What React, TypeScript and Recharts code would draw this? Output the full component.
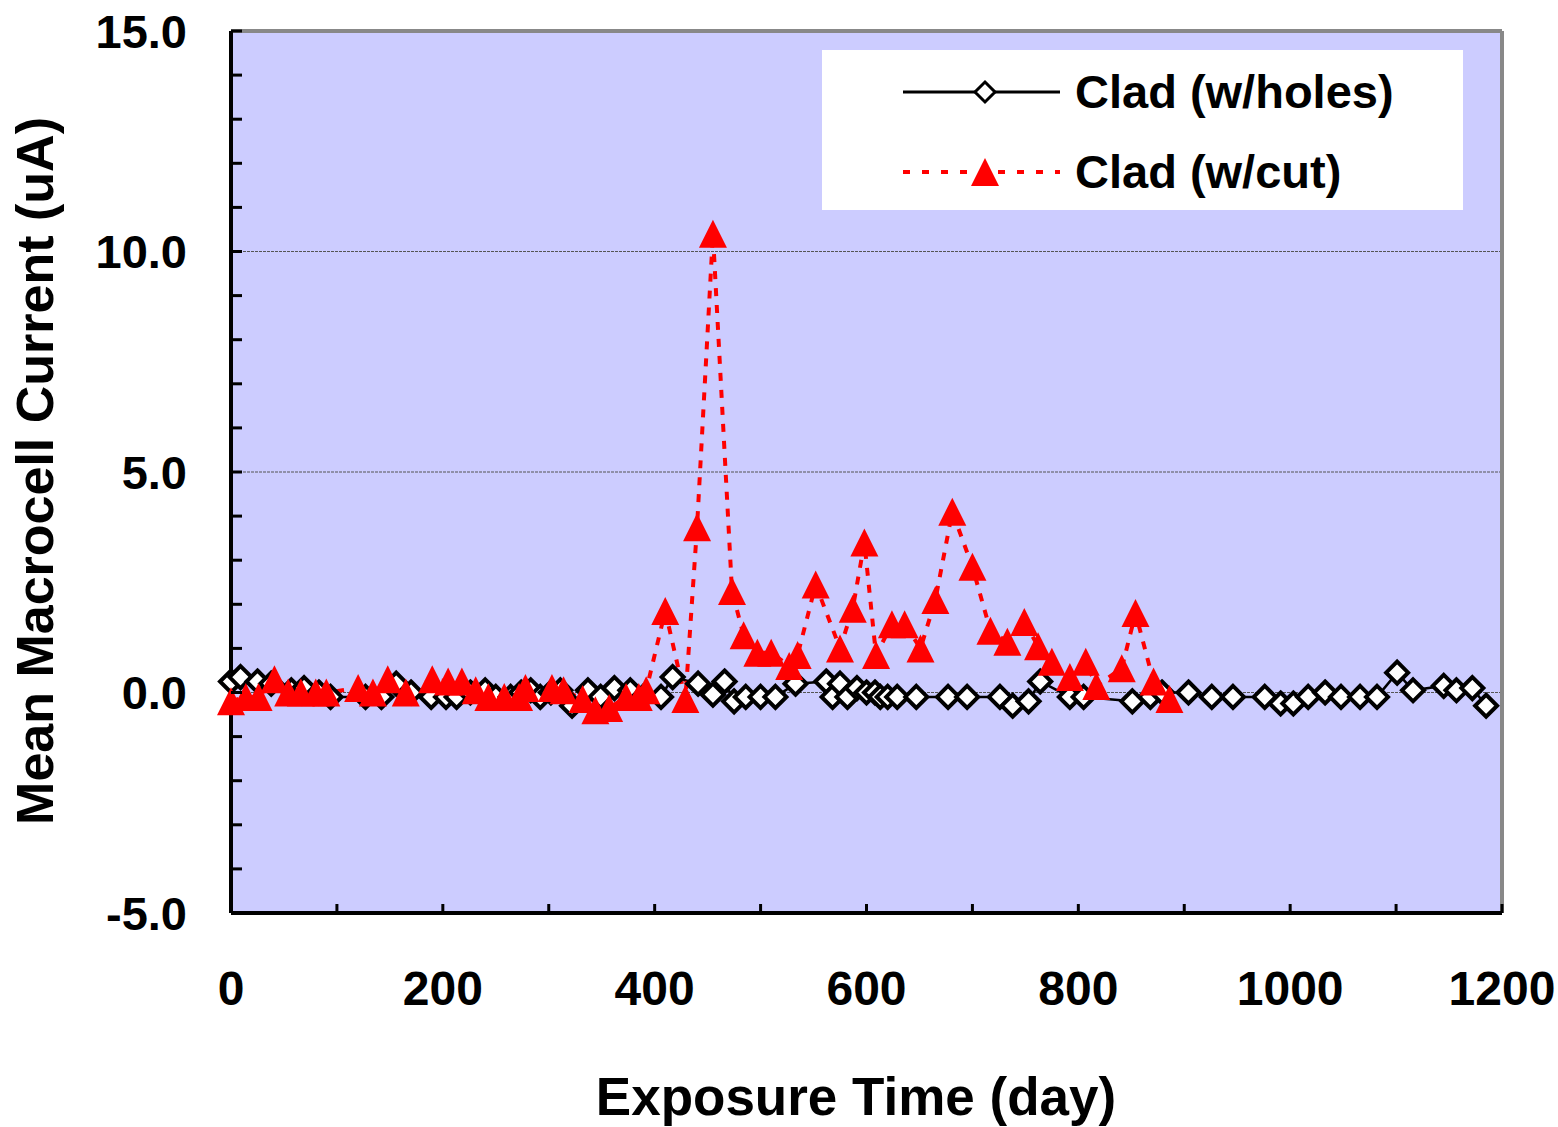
import React from 'react';
import { LineChart, Line, XAxis, YAxis, ReferenceLine, ReferenceArea } from 'recharts';

// Clad (w/holes) readings
const holesDays = [
  0, 9, 25, 38, 57, 69, 83, 94, 127, 142, 156, 170, 189, 203, 213, 226, 240, 250, 264, 274,
  283, 292, 302, 311, 322, 337, 349, 362, 377, 389, 406, 417, 441, 455, 466, 475, 486, 500,
  514, 533, 562, 568, 575, 582, 591, 600, 608, 613, 620, 629, 647, 677, 695, 726, 738, 753,
  764, 792, 805, 851, 868, 879, 904, 926, 946, 976, 991, 1003, 1017, 1033, 1048, 1066, 1082,
  1101, 1116, 1145, 1157, 1172, 1185,
];
const holesCurrent = [
  0.25, 0.35, 0.25, 0.2, 0.05, 0.1, 0.0, -0.1, -0.1, -0.1, 0.2, 0.0, -0.1, -0.1, -0.1, 0.0, 0.05, -0.1, -0.1, 0.0,
  0.05, -0.1, 0.0, 0.05, -0.3, 0.05, -0.1, 0.1, 0.05, -0.1, -0.1, 0.35, 0.2, -0.05, 0.25, -0.2, -0.1, -0.1,
  -0.1, 0.2, 0.25, -0.1, 0.2, -0.1, 0.1, 0.0, 0.0, -0.1, -0.1, -0.1, -0.1, -0.1, -0.1, -0.1, -0.3, -0.2,
  0.25, -0.1, -0.1, -0.2, -0.1, 0.0, 0.0, -0.1, -0.1, -0.1, -0.25, -0.25, -0.1, 0.0, -0.1, -0.1, -0.1,
  0.45, 0.05, 0.15, 0.05, 0.1, -0.3,
];

// Clad (w/cut) readings
const cutDays = [
  0, 14, 26, 41, 54, 66, 80, 90, 120, 134, 148, 165, 190, 205, 218, 231, 243, 258, 272, 278,
  303, 314, 332, 344, 357, 373, 385, 392, 410, 429, 440, 455, 473, 484, 497, 510, 527, 535,
  552, 575, 587, 598, 609, 624, 636, 651, 665, 681, 700, 717, 733, 749, 762, 775, 792, 807,
  817, 841, 854, 871, 886,
];
const cutCurrent = [
  -0.2, -0.1, -0.1, 0.3, 0.0, 0.0, 0.0, 0.0, 0.1, 0.0, 0.3, 0.0, 0.3, 0.25, 0.25, 0.05, -0.1, -0.1, -0.1, 0.1,
  0.1, 0.05, -0.15, -0.4, -0.35, -0.1, -0.1, 0.05, 1.85, -0.15, 3.75, 10.4, 2.3, 1.3, 0.9, 0.9, 0.6, 0.85,
  2.45, 1.0, 1.9, 3.4, 0.85, 1.55, 1.55, 1.0, 2.1, 4.1, 2.85, 1.4, 1.15, 1.6, 1.05, 0.7, 0.35, 0.7,
  0.15, 0.55, 1.8, 0.25, -0.15,
];

const xTicks = [0, 100, 200, 300, 400, 500, 600, 700, 800, 900, 1000, 1100, 1200];
const yTicks = [-5, -4, -3, -2, -1, 0, 1, 2, 3, 4, 5, 6, 7, 8, 9, 10, 11, 12, 13, 14, 15];
const gridValues = [0, 5, 10];

const holesData = holesDays.map((day, i) => ({ day, current: holesCurrent[i] }));
const cutData = cutDays.map((day, i) => ({ day, current: cutCurrent[i] }));

const FONT = '"Liberation Sans", Arial, sans-serif';
const PLOT_LEFT = 231;
const PLOT_BOTTOM = 913;

const diamondPath = (cx: number, cy: number, r: number) =>
  `M${cx},${cy - r} L${cx + r},${cy} L${cx},${cy + r} L${cx - r},${cy} Z`;

const trianglePath = (cx: number, cy: number) =>
  `M${cx},${cy - 14} L${cx + 14},${cy + 14} L${cx - 14},${cy + 14} Z`;

const DiamondDot = (props: any) => {
  const { cx, cy, index } = props;
  if (cx == null || cy == null) return <g key={`d-${index}`} />;
  return (
    <path key={`d-${index}`} d={diamondPath(cx, cy, 11)} fill="#fff" stroke="#000" strokeWidth={4} strokeLinejoin="miter" />
  );
};

const TriangleDot = (props: any) => {
  const { cx, cy, index } = props;
  if (cx == null || cy == null) return <g key={`t-${index}`} />;
  return <path key={`t-${index}`} d={trianglePath(cx, cy)} fill="#ff0000" stroke="none" />;
};

const YTick = (props: any) => {
  const { y, payload } = props;
  const v = payload.value as number;
  return (
    <g>
      <line x1={PLOT_LEFT} x2={PLOT_LEFT + 11} y1={y} y2={y} stroke="#000" strokeWidth={3} />
      {v % 5 === 0 && (
        <text x={187} y={y} dy="0.36em" textAnchor="end" fontSize={47} fontWeight="bold" fontFamily={FONT} fill="#000">
          {v.toFixed(1)}
        </text>
      )}
    </g>
  );
};

const XTick = (props: any) => {
  const { x, payload } = props;
  const v = payload.value as number;
  return (
    <g>
      <line x1={x} x2={x} y1={PLOT_BOTTOM} y2={PLOT_BOTTOM - 9} stroke="#000" strokeWidth={3} />
      {v % 200 === 0 && (
        <text x={x} y={1005} textAnchor="middle" fontSize={48} fontWeight="bold" fontFamily={FONT} fill="#000">
          {v}
        </text>
      )}
    </g>
  );
};

const LegendBox = () => (
  <svg width={641} height={160} style={{ display: 'block' }}>
    <rect x={0} y={0} width={641} height={160} fill="#fff" />
    <line x1={81} x2={238} y1={42} y2={42} stroke="#000" strokeWidth={3} />
    <path d={diamondPath(163, 42, 10)} fill="#fff" stroke="#000" strokeWidth={3} />
    <text x={253} y={58} fontSize={47} fontWeight="bold" fontFamily={FONT} fill="#000">
      Clad (w/holes)
    </text>
    <line x1={81} x2={238} y1={122} y2={122} stroke="#ff0000" strokeWidth={4} strokeDasharray="7 12" />
    <path d={trianglePath(163, 122)} fill="#ff0000" />
    <text x={253} y={138} fontSize={47} fontWeight="bold" fontFamily={FONT} fill="#000">
      Clad (w/cut)
    </text>
  </svg>
);

export default function App() {
  return (
    <div style={{ position: 'absolute', left: 0, top: 0, width: 1558, height: 1127, background: '#fff' }}>
      <LineChart width={1558} height={1127} margin={{ top: 31, right: 56, bottom: 114, left: 131 }}>
        <ReferenceArea x1={0} x2={1200} y1={-5} y2={15} fill="#ccccff" fillOpacity={1} stroke="none" />
        {gridValues.map((v) => (
          <ReferenceLine key={v} y={v} stroke="#555" strokeWidth={1} strokeDasharray="3 1" />
        ))}
        <ReferenceLine y={15} stroke="#888" strokeWidth={4} />
        <ReferenceLine x={1200} stroke="#888" strokeWidth={4} />
        <XAxis
          dataKey="day"
          type="number"
          domain={[0, 1200]}
          ticks={xTicks}
          interval={0}
          height={100}
          allowDuplicatedCategory={false}
          axisLine={{ stroke: '#000', strokeWidth: 4 }}
          tickLine={false}
          tick={<XTick />}
          label={{
            content: () => (
              <text x={856} y={1115} textAnchor="middle" fontSize={53} fontWeight="bold" fontFamily={FONT} fill="#000">
                Exposure Time (day)
              </text>
            ),
          }}
        />
        <YAxis
          type="number"
          domain={[-5, 15]}
          ticks={yTicks}
          interval={0}
          width={100}
          axisLine={{ stroke: '#000', strokeWidth: 4 }}
          tickLine={false}
          tick={<YTick />}
          label={{
            content: () => (
              <text
                x={53}
                y={471}
                transform="rotate(-90 53 471)"
                textAnchor="middle"
                fontSize={52}
                fontWeight="bold"
                fontFamily={FONT}
                fill="#000"
              >
                Mean Macrocell Current (uA)
              </text>
            ),
          }}
        />
        <Line
          data={holesData}
          dataKey="current"
          name="Clad (w/holes)"
          stroke="#000"
          strokeWidth={2.5}
          dot={<DiamondDot />}
          activeDot={false}
          isAnimationActive={false}
        />
        <Line
          data={cutData}
          dataKey="current"
          name="Clad (w/cut)"
          stroke="#ff0000"
          strokeWidth={4}
          strokeDasharray="8 9"
          dot={<TriangleDot />}
          activeDot={false}
          isAnimationActive={false}
        />
      </LineChart>
      <div style={{ position: 'absolute', left: 822, top: 50 }}>
        <LegendBox />
      </div>
    </div>
  );
}
